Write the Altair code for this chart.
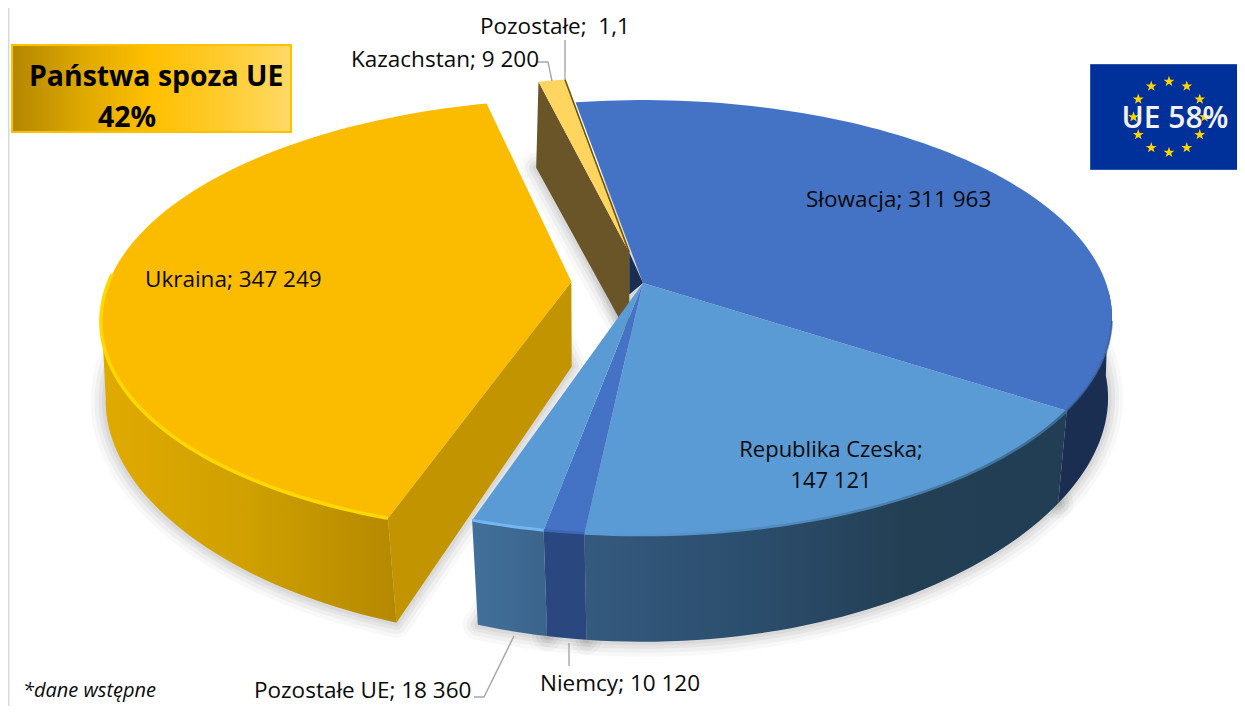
import math
import altair as alt

# ---- data ----
names = ["Słowacja", "Republika Czeska", "Niemcy", "Pozostałe UE", "Ukraina", "Kazachstan", "Pozostałe"]
values = [311963, 147121, 10120, 18360, 347249, 9200, 1.1]
value_labels = ["311 963", "147 121", "10 120", "18 360", "347 249", "9 200", "1,1"]
top_colors = ["#4472C4", "#5B9BD5", "#4472C4", "#5B9BD5", "#FBBC00", "#FFD560", "#FFD560"]
explode = [0, 0, 0, 0, 0.155, 0.15, 0.15]
box_title = "Państwa spoza UE"
box_share = "42%"
flag_text = "UE 58%"
note_text = "*dane wstępne"

# ---- view geometry of the tilted pie ----
W, H = 1229, 698
OFF = 8
START = -9.7
TOP = dict(cx=643, cy=283, A=463, B=212, p=0.159, px=0.159)
BOT = dict(cx=643, cy=368, A=461, B=219, p=0.2, px=0.132)


def project(u, v, lev):
    return [lev["cx"] + lev["A"] * u / (1 + lev["px"] * v) - OFF,
            lev["cy"] - lev["B"] * v / (1 + lev["p"] * v) - OFF]


total = sum(values)
spans = []
cur = START
for i, val in enumerate(values):
    a0, a1 = cur, cur + val / total * 360
    mid = math.radians((a0 + a1) / 2)
    spans.append(dict(a0=a0, a1=a1, du=explode[i] * math.sin(mid), dv=explode[i] * math.cos(mid)))
    cur = a1


def apex(i, lev):
    s = spans[i]
    return project(s["du"], s["dv"], lev)


def arc(i, a0, a1, lev):
    s = spans[i]
    n = max(2, int(abs(a1 - a0) / 1.5) + 1)
    out = []
    for k in range(n + 1):
        t = math.radians(a0 + (a1 - a0) * k / n)
        out.append(project(math.sin(t) + s["du"], math.cos(t) + s["dv"], lev))
    return out


def sector(i, lev):
    return [apex(i, lev)] + arc(i, spans[i]["a0"], spans[i]["a1"], lev)


def wall(i, a0, a1):
    return arc(i, a0, a1, TOP) + arc(i, a1, a0, BOT)


def face(i, ang):
    return [apex(i, TOP), arc(i, ang, ang, TOP)[0], arc(i, ang, ang, BOT)[0], apex(i, BOT)]


layers = []


def shape(pts, closed=True, **mark):
    if closed:
        geom = {"type": "Polygon", "coordinates": [pts + [pts[0]]]}
    else:
        geom = {"type": "LineString", "coordinates": pts}
        mark["filled"] = False
    feat = {"type": "Feature", "properties": {}, "geometry": geom}
    layers.append(alt.Chart(alt.Data(values=[feat])).mark_geoshape(**mark).project(type="identity", scale=1, translate=[0, 0]))


def grad(*cols):
    n = len(cols) - 1
    return alt.Gradient(gradient="linear", x1=0, x2=1, y1=0, y2=0,
                        stops=[alt.GradientStop(color=c, offset=k / n) for k, c in enumerate(cols)])


def text(s, x, y, size=22.5, weight="normal", align="left", color="#0A0A0A", style="normal"):
    layers.append(
        alt.Chart(alt.Data(values=[{"t": s}]))
        .mark_text(font="Open Sans", fontSize=size, fontWeight=weight, align=align, baseline="middle",
                   fontStyle=style, color=color)
        .encode(x=alt.value(x - OFF), y=alt.value(y - OFF), text="t:N")
    )


def leader(pts):
    shape([[x - OFF, y - OFF] for x, y in pts], closed=False, stroke="#A6A6A6", strokeWidth=1.4)


# page edge line
shape([[0.5, 0], [0.5, H]], closed=False, stroke="#D9D9D9", strokeWidth=2)

# soft shadows under the bottom discs
for width, op in [(30, 0.025), (22, 0.03), (14, 0.04), (7, 0.045)]:
    for i in [0, 1, 2, 3, 4, 5]:
        shape(sector(i, BOT), fill="#000000", stroke="#000000", strokeWidth=width,
              opacity=op, strokeJoin="round")

# Ukraine
u = 4
shape(wall(u, spans[u]["a0"], 262), fill=grad("#E0AA00", "#CFA000", "#B58800"))
shape(face(u, spans[u]["a0"]), fill="#C29400")
shape(sector(u, TOP), fill=top_colors[u])
shape(arc(u, spans[u]["a0"], 272, TOP), closed=False, stroke="#FFD800", strokeWidth=3.5)

# blue walls
shape(wall(0, 92, spans[0]["a1"]), fill="#1A2E52")
shape(wall(1, spans[1]["a0"], spans[1]["a1"]), fill=grad("#345A7E", "#2C4E6E", "#233F54", "#223E55"))
shape(wall(2, spans[2]["a0"], spans[2]["a1"]), fill="#2A477F")
shape(wall(3, spans[3]["a0"], spans[3]["a1"]), fill=grad("#41709A", "#3B648C"))

# Slovakia top, then Kazakhstan slice
shape(sector(0, TOP), fill=top_colors[0])
shape(arc(0, 100, spans[0]["a1"], TOP), closed=False, stroke="#2F5590", strokeWidth=2, opacity=0.6)

k = 5
shape(face(k, spans[k]["a0"]), fill="#6A5528")
ka = apex(k, TOP)
cen = project(0, 0, TOP)
shape([ka, cen, [ka[0], ka[1] + 42]], fill="#1A2E52")
shape(sector(k, TOP), fill=top_colors[k])
shape([arc(k, spans[k]["a1"], spans[k]["a1"], TOP)[0], ka], closed=False, stroke="#6B5410", strokeWidth=1.6)

# remaining tops
for i in [1, 2, 3]:
    shape(sector(i, TOP), fill=top_colors[i])
shape(arc(1, spans[1]["a0"], spans[1]["a1"], TOP), closed=False,
      stroke=grad("#5B9BD5", "#4F88B8", "#3B6A90"), strokeWidth=2.5)
shape(arc(2, spans[2]["a0"], spans[2]["a1"], TOP), closed=False, stroke="#3D66B4", strokeWidth=2.5)
shape(arc(3, spans[3]["a0"], spans[3]["a1"], TOP), closed=False, stroke="#74B6F0", strokeWidth=3)

# leader lines
leader([(537, 62), (548, 62), (552, 81)])
leader([(565, 40), (565, 79)])
leader([(474, 697), (484, 697), (514, 636)])
leader([(569, 643), (569, 666)])

# gold box
box = [[12 - OFF, 45 - OFF], [291 - OFF, 45 - OFF], [291 - OFF, 132 - OFF], [12 - OFF, 132 - OFF]]
shape(box, fill=grad("#B38600", "#DDA800", "#FFC000", "#FFCB2E", "#FFD966"), stroke="#FFC000", strokeWidth=2)

# flag
flag = [[1090.5 - OFF, 64.5 - OFF], [W + 2, 64.5 - OFF], [W + 2, 169.5 - OFF], [1090.5 - OFF, 169.5 - OFF]]
shape(flag, fill="#00309A", stroke="#2A55AA", strokeWidth=1)
star_points = [{"a": 30 * n} for n in range(12)]
STAR = ("M0,-1 L0.235,-0.324 L0.951,-0.309 L0.38,0.124 L0.588,0.809 L0,0.4 "
        "L-0.588,0.809 L-0.38,0.124 L-0.951,-0.309 L-0.235,-0.324 Z")
layers.append(
    alt.Chart(alt.Data(values=star_points))
    .transform_calculate(px="1161 + 35.5 * sin(datum.a * PI / 180)", py="109 - 35.5 * cos(datum.a * PI / 180)")
    .mark_point(shape=STAR, filled=True, color="#FFD500", size=130, opacity=1)
    .encode(x=alt.X("px:Q", scale=None), y=alt.Y("py:Q", scale=None))
)

# texts
text(f"{names[0]}; {value_labels[0]}", 806, 200)
text(f"{names[4]}; {value_labels[4]}", 145, 280)
text(f"{names[1]};", 831, 450, size=22, align="center")
text(value_labels[1], 831, 481, size=22, align="center")
text(f"{names[3]}; {value_labels[3]}", 254, 691)
text(f"{names[2]}; {value_labels[2]}", 540, 684)
text(f"{names[5]}; {value_labels[5]}", 351, 60)
text(f"{names[6]};\u00a0 {value_labels[6]}", 480, 27)
text(note_text, 23, 691, size=20, style="italic")
text(box_title, 29, 77, size=28.4, weight="bold", color="#000000")
text(box_share, 127, 118, size=28.4, weight="bold", align="center", color="#000000")
text(flag_text, 1175, 119, size=30, weight=600, align="center", color="#F2F2F2")

chart = (
    alt.layer(*layers)
    .properties(width=W, height=H, padding=0, background="white",
                autosize=alt.AutoSizeParams(type="none"))
    .configure_view(stroke=None)
)
chart.save("out.html", embed_options={"renderer": "svg", "actions": False})
